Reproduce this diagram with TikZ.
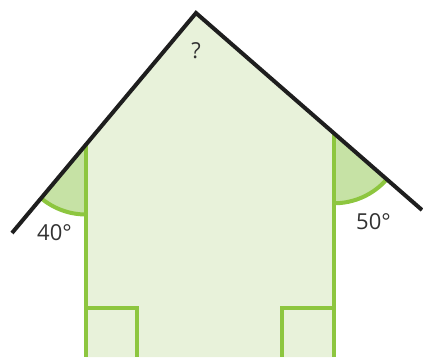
\documentclass[tikz,border=0pt]{standalone}
\usepackage{fontspec}
\setmainfont{Open Sans}
\usetikzlibrary{calc}
\definecolor{wallgreen}{RGB}{141,198,63}
\definecolor{housefill}{RGB}{232,242,218}
\definecolor{anglefill}{RGB}{198,226,165}
\definecolor{roofblack}{RGB}{30,30,30}
\definecolor{labelgray}{RGB}{50,50,50}

\begin{document}
\begin{tikzpicture}[x=1pt, y=1pt, roof/.style = {draw=roofblack, line width=4pt}, wall/.style = {draw=wallgreen, line width=4pt}, lbl/.style = {font=\fontsize{22}{26}\selectfont, text=labelgray}] 
\useasboundingbox (0,0) rectangle (423,357);
\coordinate (A) at (196,344); 
\coordinate (E1) at (12,124); 
\coordinate (E2) at (422,147); 
\coordinate (L) at (86,212.5); 
\coordinate (R) at (334,223.7); 
\coordinate (LB) at (86,0); 
\coordinate (RB) at (334,0); 
\fill[housefill] (LB) -- (L) -- (A) -- (R) -- (RB) -- cycle;
% angle sectors
\fill[anglefill] (L) -- ++(230.1:70) arc (230.1:270:70) -- cycle;
\fill[anglefill] (R) -- ++(270:70) arc (270:318.9:70) -- cycle;
\draw[wall] (L) ++(230.1:70) arc (230.1:270:70);
\draw[wall] (R) ++(270:70) arc (270:318.9:70);
% walls and right angles
\draw[wall] (L) -- (LB);
\draw[wall] (R) -- (RB);
\draw[wall] (86,49) -- (137,49) -- (137,0);
\draw[wall] (334,49) -- (282,49) -- (282,0);
% roof
\draw[roof] (E1) -- (A) -- (E2);
\node[lbl] (q) at (196,306) {?}; 
\node[lbl] (a40) at (54.5,124.5) {40°}; 
\node[lbl] (a50) at (373.5,135) {50°}; 
\end{tikzpicture}
\end{document}
